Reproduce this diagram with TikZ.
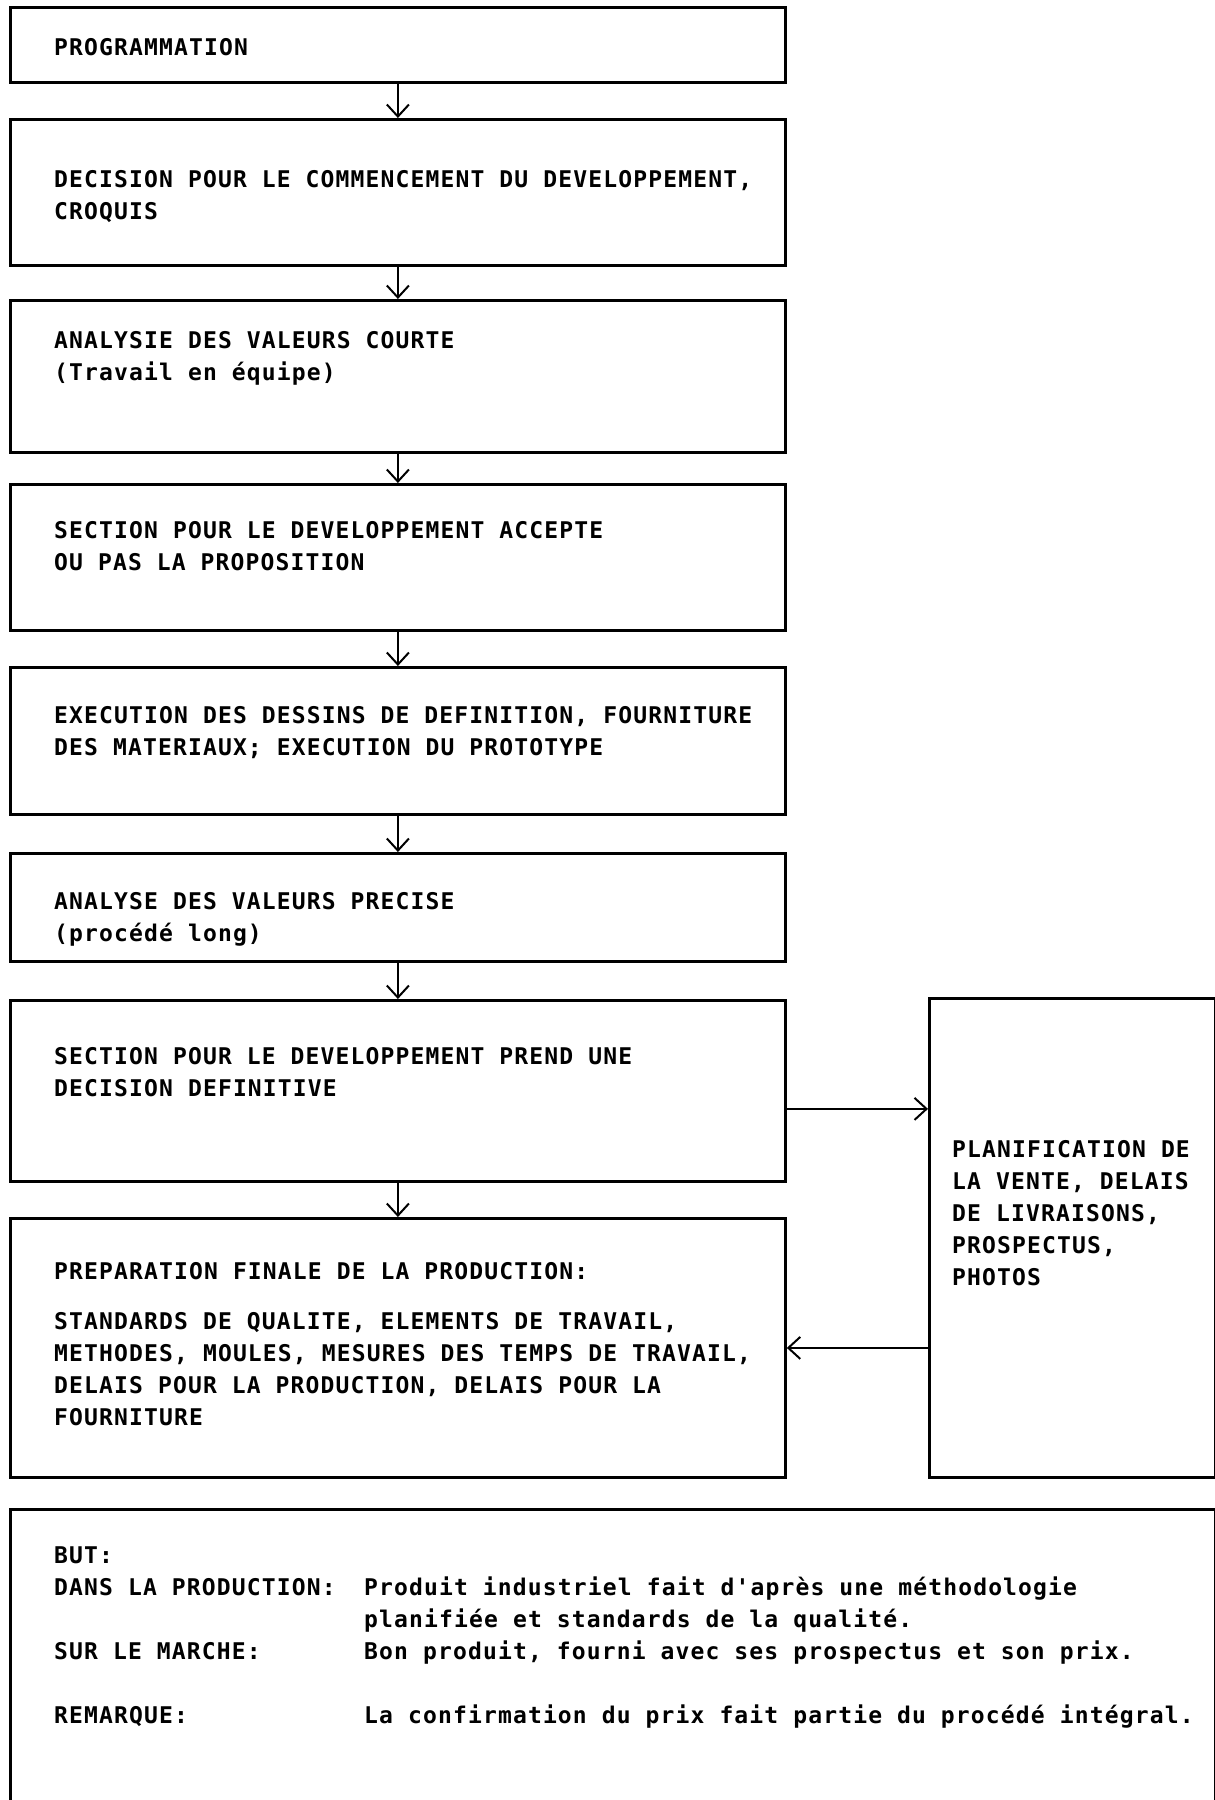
\documentclass[tikz,border=0pt]{standalone}
\usepackage{fontspec}
\newfontfamily\typewr{DejaVu Sans Mono}[LetterSpace=5]
\usetikzlibrary{positioning,arrows.meta}
\newcommand{\lstrut}{\rule{0pt}{20pt}}
\newcommand{\colA}[1]{\makebox[310pt][l]{#1}}

\begin{document}
\begin{tikzpicture}[x=1pt, y=-1pt,
    box/.style = {draw, line width=2.8pt, minimum width=775pt, anchor=north west, inner sep=0pt},
    txt/.style = {inner sep=0pt, align=left, font=\typewr\bfseries\fontsize{23}{32}\selectfont},
    arr/.style = {line width=2pt, -{Straight Barb[length=12pt,width=22pt,line width=2pt]}}]
    \useasboundingbox (0,0) rectangle (1215,1800);
    \clip (0,0) rectangle (1215,1800);
    % boxes
    \node[box, minimum height=75pt] (prog) at (9,6) {};
    \node[box, minimum height=146pt] (dec) at (9,118) {};
    \node[box, minimum height=152pt] (ana) at (9,299) {};
    \node[box, minimum height=146pt] (acc) at (9,483) {};
    \node[box, minimum height=147pt] (exe) at (9,666) {};
    \node[box, minimum height=108pt] (prec) at (9,852) {};
    \node[box, minimum height=181pt] (defi) at (9,999) {};
    \node[box, minimum height=259pt] (prep) at (9,1217) {};
    \node[box, minimum width=286pt, minimum height=479pt] (vente) at (928,997) {};
    \node[box, minimum width=1205pt, minimum height=400pt] (but) at (9,1508) {};
    % texts
    \node[txt, below right=29pt and 45pt of prog.north west] (tprog) {\lstrut PROGRAMMATION};
    \node[txt, below right=49pt and 45pt of dec.north west] (tdec) {\lstrut DECISION POUR LE COMMENCEMENT DU DEVELOPPEMENT,\\CROQUIS};
    \node[txt, below right=29pt and 45pt of ana.north west] (tana) {\lstrut ANALYSIE DES VALEURS COURTE\\(Travail en équipe)};
    \node[txt, below right=35pt and 45pt of acc.north west] (tacc) {\lstrut SECTION POUR LE DEVELOPPEMENT ACCEPTE\\OU PAS LA PROPOSITION};
    \node[txt, below right=37pt and 45pt of exe.north west] (texe) {\lstrut EXECUTION DES DESSINS DE DEFINITION, FOURNITURE\\DES MATERIAUX; EXECUTION DU PROTOTYPE};
    \node[txt, below right=37pt and 45pt of prec.north west] (tprec) {\lstrut ANALYSE DES VALEURS PRECISE\\(procédé long)};
    \node[txt, below right=45pt and 45pt of defi.north west] (tdefi) {\lstrut SECTION POUR LE DEVELOPPEMENT PREND UNE\\DECISION DEFINITIVE};
    \node[txt, below right=42pt and 45pt of prep.north west] (tprep) {\lstrut PREPARATION FINALE DE LA PRODUCTION:\\[18pt]
        STANDARDS DE QUALITE, ELEMENTS DE TRAVAIL,\\
        METHODES, MOULES, MESURES DES TEMPS DE TRAVAIL,\\
        DELAIS POUR LA PRODUCTION, DELAIS POUR LA\\
        FOURNITURE};
    \node[txt, below right=140pt and 24pt of vente.north west] (tvente) {\lstrut PLANIFICATION DE\\LA VENTE, DELAIS\\DE LIVRAISONS,\\PROSPECTUS,\\PHOTOS};
    \node[txt, below right=35pt and 45pt of but.north west] (tbut) {\lstrut BUT:\\
        \colA{DANS LA PRODUCTION:}Produit industriel fait d'après une méthodologie\\
        \colA{}planifiée et standards de la qualité.\\
        \colA{SUR LE MARCHE:}Bon produit, fourni avec ses prospectus et son prix.\\[32pt]
        \colA{REMARQUE:}La confirmation du prix fait partie du procédé intégral.};
    % arrows
    \draw[arr] (prog) -- (dec);
    \draw[arr] (dec) -- (ana);
    \draw[arr] (ana) -- (acc);
    \draw[arr] (acc) -- (exe);
    \draw[arr] (exe) -- (prec);
    \draw[arr] (prec) -- (defi);
    \draw[arr] (defi) -- (prep);
    \coordinate (o1) at ([yshift=-18pt]defi.east);
    \draw[arr] (o1) -- (o1 -| vente.west);
    \draw[arr] (prep.east -| vente.west) -- (prep.east);
\end{tikzpicture}
\end{document}
